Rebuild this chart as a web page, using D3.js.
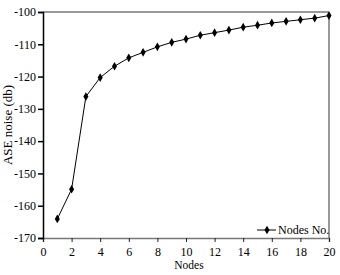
<!DOCTYPE html>
<html>
<head>
<meta charset="utf-8">
<script src="https://cdn.jsdelivr.net/npm/d3@7"></script>
<style>
  body { margin: 0; background: #fff; }
  text { font-family: "Liberation Serif", "DejaVu Serif", serif; }
</style>
</head>
<body>
<div id="chart"></div>
<script>
const nodes = [1, 2, 3, 4, 5, 6, 7, 8, 9, 10, 11, 12, 13, 14, 15, 16, 17, 18, 19, 20];
const noise = [-164.1, -154.9, -126.2, -120.3, -116.8, -114.2, -112.5, -110.8, -109.4, -108.4,
  -107.2, -106.4, -105.6, -104.7, -104.1, -103.4, -102.9, -102.4, -101.9, -101.1];
const xTicks = [0, 2, 4, 6, 8, 10, 12, 14, 16, 18, 20];
const yTicks = [-100, -110, -120, -130, -140, -150, -160, -170];

const margin = { top: 12, right: 11, bottom: 37, left: 43 };
const width = 340 - margin.left - margin.right;
const height = 275 - margin.top - margin.bottom;

const svg = d3
  .select("#chart")
  .append("svg")
  .attr("width", 340)
  .attr("height", 275)
  .append("g")
  .attr("transform", `translate(${margin.left},${margin.top})`);

const x = d3.scaleLinear().domain([0, 20]).range([0, width]);
const y = d3.scaleLinear().domain([-170, -100]).range([height, 0]);

// frame: top and right are gray
svg.append("line").attr("x1", 0).attr("x2", width).attr("y1", 0).attr("y2", 0)
  .attr("stroke", "#777").attr("stroke-width", 1.5);
svg.append("line").attr("x1", width).attr("x2", width).attr("y1", 0).attr("y2", height)
  .attr("stroke", "#777").attr("stroke-width", 1.5);

const xAxis = svg
  .append("g")
  .attr("transform", `translate(0,${height})`)
  .call(d3.axisBottom(x).tickValues(xTicks).tickSize(4).tickPadding(5));
xAxis.select(".domain").attr("stroke", "#777").attr("stroke-width", 1.5);
xAxis.selectAll(".tick line").attr("stroke", "#222");

const yAxis = svg
  .append("g")
  .call(d3.axisLeft(y).tickValues(yTicks).tickSize(5).tickPadding(2).tickFormat((d) => "-" + Math.abs(d)));
yAxis.select(".domain").attr("stroke", "#000").attr("stroke-width", 1.5);
yAxis.selectAll(".tick line").attr("stroke", "#000").attr("stroke-width", 1.5);

svg.selectAll(".tick text").attr("font-size", 12).attr("fill", "#000")
  .style("font-family", "'Liberation Serif', serif");

const line = d3.line()
  .x((d, i) => x(nodes[i]))
  .y((d) => y(d));

svg.append("path")
  .datum(noise)
  .attr("fill", "none")
  .attr("stroke", "#000")
  .attr("stroke-width", 1)
  .attr("d", line);

const diamond = d3.symbol().type(d3.symbolDiamond).size(22);

svg.selectAll(".pt")
  .data(noise)
  .enter()
  .append("path")
  .attr("class", "pt")
  .attr("transform", (d, i) => `translate(${x(nodes[i])},${y(d)})`)
  .attr("d", diamond)
  .attr("fill", "#000");

// legend
const legend = svg.append("g").attr("transform", `translate(${width - 72},${height - 8})`);
legend.append("line").attr("x1", 0).attr("x2", 19).attr("stroke", "#000");
legend.append("path").attr("transform", "translate(10,0)").attr("d", diamond).attr("fill", "#000");
legend.append("text").attr("x", 21).attr("y", 4).attr("font-size", 12).text("Nodes No.");

svg.append("text")
  .attr("x", width / 2 + 3)
  .attr("y", height + 31)
  .attr("text-anchor", "middle")
  .attr("font-size", 11.5)
  .text("Nodes");

svg.append("text")
  .attr("transform", `translate(${-31},${height / 2}) rotate(-90)`)
  .attr("text-anchor", "middle")
  .attr("font-size", 13)
  .text("ASE noise (db)");
</script>
</body>
</html>
